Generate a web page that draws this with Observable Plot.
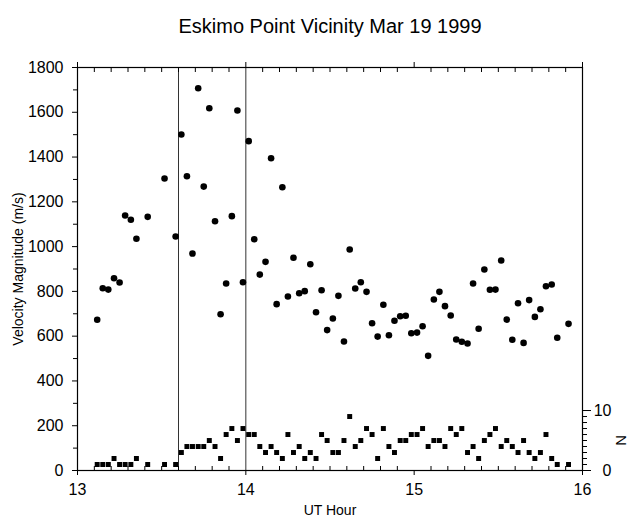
<!DOCTYPE html>
<html>
<head>
<meta charset="utf-8">
<script src="https://cdn.jsdelivr.net/npm/d3@7"></script>
<script src="https://cdn.jsdelivr.net/npm/@observablehq/plot@0.6"></script>
<style>
  html, body { margin: 0; padding: 0; background: white; }
</style>
</head>
<body>
<div id="chart"></div>
<script>
// UT hour of each sample
const times = [
  13.117, 13.150, 13.183, 13.217, 13.250, 13.283, 13.317, 13.350, 13.417, 13.517,
  13.583, 13.617, 13.650, 13.683, 13.717, 13.750, 13.783, 13.817, 13.850, 13.883,
  13.917, 13.950, 13.983, 14.017, 14.050, 14.083, 14.117, 14.150, 14.183, 14.217,
  14.250, 14.283, 14.317, 14.350, 14.383, 14.417, 14.450, 14.483, 14.517, 14.550,
  14.583, 14.617, 14.650, 14.683, 14.717, 14.750, 14.783, 14.817, 14.850, 14.883,
  14.917, 14.950, 14.983, 15.017, 15.050, 15.083, 15.117, 15.150, 15.183, 15.217,
  15.250, 15.283, 15.317, 15.350, 15.383, 15.417, 15.450, 15.483, 15.517, 15.550,
  15.583, 15.617, 15.650, 15.683, 15.717, 15.750, 15.783, 15.817, 15.850, 15.917
];
// Velocity magnitude (m/s)
const velocity = [
  673, 814, 808, 859, 840, 1139, 1120, 1035, 1133, 1304,
  1045, 1501, 1314, 969, 1707, 1268, 1618, 1113, 698, 835,
  1136, 1608, 841, 1471, 1033, 875, 932, 1395, 743, 1265,
  777, 950, 792, 801, 921, 707, 805, 627, 679, 780,
  576, 987, 813, 841, 798, 658, 598, 740, 604, 669,
  689, 691, 613, 616, 644, 512, 764, 798, 734, 692,
  585, 575, 567, 835, 633, 898, 807, 808, 938, 674,
  584, 747, 570, 761, 686, 720, 823, 831, 593, 655
];
// Number of vectors N
const counts = [
  1, 1, 1, 2, 1, 1, 1, 2, 1, 1,
  1, 3, 4, 4, 4, 4, 5, 4, 2, 6,
  7, 5, 7, 6, 6, 4, 3, 4, 3, 2,
  6, 3, 4, 2, 3, 2, 6, 5, 3, 3,
  5, 9, 4, 5, 7, 6, 2, 7, 4, 3,
  5, 5, 6, 6, 7, 4, 5, 5, 4, 7,
  6, 7, 3, 4, 2, 5, 6, 7, 4, 5,
  4, 3, 5, 3, 2, 3, 6, 2, 1, 1
];
const markerTimes = [13.6, 14.0];
const xTicks = [13, 14, 15, 16];
const yTicks = [0, 200, 400, 600, 800, 1000, 1200, 1400, 1600, 1800];
const nTicks = [0, 10];

const title = "Eskimo Point Vicinity Mar 19 1999";
const xLabel = "UT Hour";
const yLabel = "Velocity Magnitude (m/s)";
const nLabel = "N";

// N is drawn on the same vertical scale: 10 N ≈ 60 px of a 403 px / 1800 m/s axis
const nUnit = 1800 / 67.2;

const data = times.map((t, i) => ({t, v: velocity[i], n: counts[i]}));
const xMinor = d3.range(130, 161).map(d => d / 10).filter(d => !xTicks.includes(d));
const yMinor = d3.range(1, 18, 2).map(d => d * 100);
const nMinor = d3.range(1, 10).map(d => d * nUnit);

const font = "'Liberation Sans', Arial, Helvetica, sans-serif";
const plain = d => String(d);

const chart = Plot.plot({
  width: 630,
  height: 521,
  marginLeft: 77,
  marginRight: 48,
  marginTop: 67,
  marginBottom: 51,
  x: {domain: [13, 16]},
  y: {domain: [0, 1800]},
  style: {fontFamily: font, fontSize: "16px", color: "black", background: "white"},
  marks: [
    Plot.ruleX(markerTimes, {stroke: "#333", strokeWidth: 1}),
    Plot.frame({stroke: "black", strokeWidth: 1.2}),
    Plot.axisX(xTicks, {anchor: "bottom", tickSize: 5, tickPadding: 8, tickFormat: plain, label: null, fontSize: 16}),
    Plot.axisX(xMinor, {anchor: "bottom", tickSize: -4, tickFormat: () => "", label: null}),
    Plot.axisX(xTicks, {anchor: "top", tickSize: 6, tickFormat: () => "", label: null}),
    Plot.axisX(xMinor, {anchor: "top", tickSize: -4, tickFormat: () => "", label: null}),
    Plot.axisY(yTicks, {anchor: "left", tickSize: 5, tickPadding: 9, tickFormat: plain, label: null, fontSize: 16}),
    Plot.axisY(yMinor, {anchor: "left", tickSize: 4, tickFormat: () => "", label: null}),
    Plot.axisY(nTicks.map(n => n * nUnit), {anchor: "right", tickSize: 8, tickPadding: 21, textAnchor: "end",
      tickFormat: d => String(Math.round(d / nUnit)), label: null, fontSize: 16}),
    Plot.axisY(nMinor, {anchor: "right", tickSize: 4, tickFormat: () => "", label: null}),
    Plot.dot(data, {x: "t", y: "v", r: 3.3, fill: "black", stroke: null}),
    Plot.dot(data, {x: "t", y: d => d.n * nUnit, symbol: "square", r: 2.8, fill: "black", stroke: null}),
    Plot.text([title], {frameAnchor: "top", lineAnchor: "middle", dy: -41, fontSize: 20}),
    Plot.text([xLabel], {frameAnchor: "bottom", lineAnchor: "middle", dy: 40, fontSize: 14}),
    Plot.text([yLabel], {frameAnchor: "left", textAnchor: "middle", lineAnchor: "middle", rotate: -90, dx: -59, fontSize: 14}),
    Plot.text([nLabel], {frameAnchor: "right", textAnchor: "middle", lineAnchor: "middle", rotate: 90, dx: 38,
      y: [d3.mean(nTicks) * nUnit], fontSize: 15})
  ]
});
document.getElementById("chart").appendChild(chart);
</script>
</body>
</html>
